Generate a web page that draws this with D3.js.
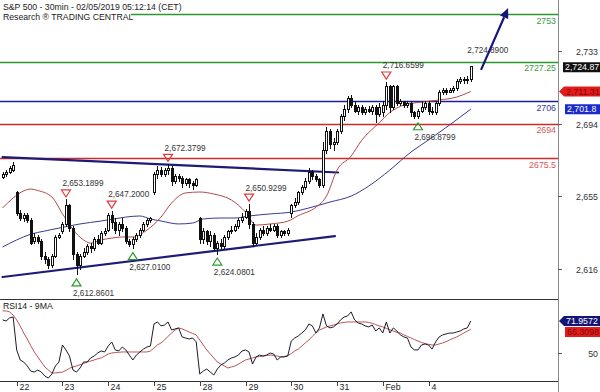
<!DOCTYPE html>
<html><head><meta charset="utf-8">
<script src="https://cdn.jsdelivr.net/npm/d3@7"></script>
<style>body{margin:0;background:#fff}svg{display:block;font-family:"Liberation Sans",Arial,sans-serif}</style>
</head><body><svg id="c" width="600" height="392"></svg>
<script>
// ---------- DATA ----------
const dayLabels = ["22","23","24","25","28","29","30","31","Feb","4"];
const dayStart  = [4,17,30,43,56,69,82,95,108,121];

const opens = [2665.5,2667,2668,2669,2657,2646,2643,2645,2642,2631,2633,2631,2623,2621,2618,2623,2633,2636,2640,2650,2638,2624,2618,2623,2625,2628,2627,2632,2630,2635,2637,2645,2641,2637,2640,2638,2631,2629,2632,2634,2637,2640,2642,2657,2667,2669,2667,2669,2670,2663,2666,2665,2662,2664,2662,2661,2643,2632,2636,2631,2634,2627,2630,2628,2633,2636,2637,2639,2642,2644,2647,2640,2630,2633,2637,2635,2638,2637,2639,2634,2636,2635,2646,2650,2652,2657,2660,2663,2668,2666,2664,2661,2680,2690,2683,2684,2690,2698,2702,2708,2704,2701,2703,2700,2702,2701,2703,2699,2700,2704,2714,2703,2714,2705,2706,2704,2705,2700,2698,2701,2703,2705,2701,2700,2705,2711,2712,2711,2712,2713,2717,2718,2717.5,2718];
const highs = [2668,2669,2671,2673.5,2658,2647.5,2646,2646,2643,2635,2634,2632,2625,2622,2624,2634,2635,2641,2653.19,2650.5,2639,2625,2624,2627,2629,2630,2633,2634,2636,2638,2646,2647.2,2643,2641,2643,2639,2632,2633,2635,2638,2641,2643,2644,2668,2671,2670.5,2670,2672.38,2671,2667,2667,2666,2665,2665,2663,2664.5,2644,2638,2637,2636,2635,2631,2632,2634,2637,2639,2640,2643,2646,2648,2650.93,2641,2635,2638,2639,2639,2640,2640,2640,2637,2637,2638,2651,2654,2658,2661,2665,2670,2669,2667,2665,2684,2692,2691,2686,2691,2699,2704,2709,2709.5,2706,2704,2704,2703,2703.5,2704,2704,2705,2706,2716.66,2715,2715,2715,2707,2706,2706,2706,2701,2702,2706,2706,2706,2703,2706,2712,2713,2713,2713,2714,2718,2719,2719,2719.5,2724.89];
const lows = [2665,2666,2667.5,2668.5,2645,2642,2641.5,2641,2629,2629.5,2630,2621,2619,2616.5,2617,2622,2632.5,2635,2639,2636,2621,2612.86,2616,2622,2624,2625,2626,2629,2629,2634,2636,2638,2635,2634,2636,2630,2628,2627.01,2631,2633,2636,2639,2641,2656,2665,2666,2666,2667,2661,2662,2663,2660,2661,2660,2659,2660.5,2630,2630,2629,2628,2626,2624.08,2627,2627,2632,2635,2636,2638,2641,2643,2638,2628,2629,2632,2634,2634,2636,2636,2633,2633,2634,2634,2644,2649,2651,2656,2659,2662,2664,2663,2660,2660,2678,2681,2680,2683,2689,2696,2700,2703,2700,2699,2699,2699,2700,2699,2695,2698,2698,2702,2700,2702,2704,2704,2703,2703,2698,2697,2696.88,2700,2702,2699,2699,2699,2704,2710,2710,2711,2711,2712,2716,2716,2716,2717];
const closes = [2667,2668,2670,2672,2646,2643,2645,2642,2630,2633,2631,2623,2621,2618,2623,2633,2634,2640,2650,2638,2624,2618,2623,2625,2628,2627,2632,2630,2635,2636,2645,2641,2637,2640,2638,2631,2629,2632,2634,2637,2640,2642,2643,2667,2669,2667,2669,2670,2663,2666,2665,2662,2664,2662,2661,2664,2632,2636,2631,2634,2627,2630,2628,2633,2636,2637,2639,2642,2644,2647,2640,2630,2633,2637,2635,2638,2637,2639,2634,2636,2635,2637,2650,2652,2657,2660,2663,2668,2666,2664,2661,2680,2690,2683,2684,2690,2698,2702,2708,2704,2701,2703,2700,2702,2701,2703,2699,2703,2704,2714,2703,2714,2705,2706,2704,2705,2700,2698,2701,2703,2705,2701,2700,2705,2711,2712,2711,2712,2713,2717,2718,2717.5,2718,2724.87];

// moving averages (bar index, value)
const maFastIdx = [0,3,6,8,10,14,17,20,23,25,28,31,34,37,41,45,48,52,56,60,65,69,72,76,81,84,89,92,95,99,102,107,110,114,119,124,129,133];
const maFastVal = [2648.6,2654,2657.8,2658.8,2658,2654.5,2645.5,2637,2631.4,2629.7,2631.4,2632.4,2633,2633,2636.7,2643.7,2651.3,2656.7,2657.2,2656.1,2652.9,2646.4,2639.4,2640,2641.5,2644.5,2649,2655,2669,2676.5,2685,2694.5,2700,2704,2705.6,2706.7,2708.3,2711.3];
const maSlowIdx = [0,4,8,12,16,22,28,35,39,42,45,50,54,57,62,66,70,76,82,87,93,99,104,110,116,121,127,133];
const maSlowVal = [2627.6,2631.4,2634.5,2636.2,2637.8,2640,2641.6,2643.7,2644.3,2642.7,2641.6,2640,2640.5,2642.7,2643.2,2643.2,2644.3,2645.4,2646.4,2648.6,2651.8,2655,2660.4,2669,2678.7,2685.2,2693.3,2701.8];

const rsi = [72.7,72.0,74.1,74.7,52.1,45.2,43.8,41.1,37.6,36.9,38.3,36.9,34.2,32.8,35.6,41.1,43.8,55.5,52.1,47.9,38.3,36.9,39.7,43.8,43.8,46.6,47.9,50,51.4,50.7,54.8,57.6,52.1,51.4,54.1,52.1,48.6,45.2,48.6,50.7,52.7,54.1,54.8,69.9,71.3,68.6,69.2,71.3,65.8,66.5,67.2,61,60.3,59.6,60.3,57.6,35.6,37.6,39,36.9,34.9,39,41.8,43.1,45.2,46.6,47.3,48.6,51.4,52.1,50.7,42.4,47.3,48.6,47.9,48.6,50,49.3,45.2,47.3,47.3,47.9,58.2,60.3,61.7,63.7,65.8,69.9,68.6,63.7,67.2,76.8,68.6,67.2,67.9,69.9,72.7,74.7,75.4,78.2,72.7,70.6,69.9,68.6,67.9,69.2,65.1,67.2,63.7,71.3,63.7,67.2,65.1,62.4,61,60.3,54.1,52.1,52.1,55.5,56.2,55.5,52.7,57.6,61,62.4,63.1,63.7,63.7,64.4,65.1,66.5,67.2,71.9572];
const rsiMA = [78.9,78.9,78.2,76,72.7,68.5,63.7,59.6,55,50.7,47.3,43.8,40.4,38.3,36.3,36.3,36.6,36.9,38,39.5,40.4,41.1,42,42.8,43.8,44.5,45.2,46,46.6,47.9,49.3,50,50.3,50.5,50.7,50.7,50.7,50.7,50.7,50.7,50.7,50.7,51.4,53.4,55.5,56.9,58.9,61.5,63.7,65.8,67.2,66.5,65.5,64.4,63.4,62.4,58.9,55.5,52.1,49.3,46.6,43.8,42.4,41.1,39.7,40.4,41.1,42.4,43.8,45.2,45.9,46.6,47.3,47.6,47.9,48.3,48.6,48.3,47.9,47.3,47.6,48.3,49.6,51.4,52.7,54.8,56.9,58.9,61.5,63.7,65.8,66.8,67.9,68.6,69.2,69.9,70.6,71,71.3,71.3,71.3,71.3,71.3,71.3,71,70.4,69.5,68.6,67.9,66.9,66,65,64.2,63.7,62.4,61.4,60.3,59.2,58.2,57.2,56.5,55.9,55.5,55.5,56.2,56.9,57.8,59,60,61,62.4,63.7,65,66.3098];

const levelValues = [2753, 2727.25, 2706, 2694, 2675.5];
const levelLabels = ["2753","2727.25","2706","2694","2675.5"];
const levelKinds  = ["res","res","piv","sup","sup"];

const priceTicks = [2616, 2655, 2694, 2733];
const rsiTicks = [50];

const highMarkIdx = [18,31,47,70,109];
const highMarkVal = [2653.1899,2647.2000,2672.3799,2650.9299,2716.6599];
const lowMarkIdx  = [21,37,61,118];
const lowMarkVal  = [2612.8601,2627.0100,2624.0801,2696.8799];
const lastHighIdx = 133, lastHighVal = 2724.8900;

// trend lines: [idx0, val0, idx1, val1]
const trendUpper = [0, 2676.0, 95.3, 2667.7];
const trendLower = [0, 2611.45, 94.4, 2633.5];
const arrowLine  = [135.9, 2722.9, 143.6, 2756.2];

const lastClose = 2724.87, lastFast = 2711.31, lastSlow = 2701.8;
const lastRsi = 71.9572, lastRsiMA = 66.3098;

// ---------- DRAW ----------
const svg = d3.select("#c");
const plotR = 558, mainBot = 299, rsiBot = 381;
const x = d3.scaleLinear().domain([0,133]).range([2.6,470.8]);
const y = d3.scaleLinear().domain([2753,2675.5]).range([14,158]);
const yr = d3.scaleLinear().domain([50,lastRsi]).range([353,321]);

const defs = svg.append("defs");
defs.append("clipPath").attr("id","cm").append("rect").attr("x",0).attr("y",0).attr("width",plotR).attr("height",mainBot);
defs.append("clipPath").attr("id","cr").append("rect").attr("x",0).attr("y",mainBot).attr("width",plotR).attr("height",rsiBot-mainBot);

const gm = svg.append("g").attr("clip-path","url(#cm)");
const gr = svg.append("g").attr("clip-path","url(#cr)");

const lvlColor = {res:"#2f972f", piv:"#1f1f9a", sup:"#cf2a2a"};
const lvlText  = {res:"#3d9a3d", piv:"#3434b0", sup:"#d45858"};

// level lines
levelValues.forEach((v,k)=>{
  const yy = Math.round(y(v))+0.5;
  gm.append("line").attr("x1",0).attr("x2",plotR).attr("y1",yy).attr("y2",yy)
    .attr("stroke",lvlColor[levelKinds[k]]).attr("stroke-width",1.4);
});

// trend lines
[trendUpper,trendLower].forEach(t=>{
  gm.append("line").attr("x1",x(t[0])).attr("y1",y(t[1])).attr("x2",x(t[2])).attr("y2",y(t[3]))
    .attr("stroke","#1c1c78").attr("stroke-width",2.2).attr("stroke-linecap","round");
});

// moving averages
const lineMA = d3.line().x(d=>x(d[0])).y(d=>y(d[1])).curve(d3.curveMonotoneX);
gm.append("path").attr("d",lineMA(maSlowIdx.map((i,k)=>[i,maSlowVal[k]])))
  .attr("fill","none").attr("stroke","#3a3a92").attr("stroke-width",1);
gm.append("path").attr("d",lineMA(maFastIdx.map((i,k)=>[i,maFastVal[k]])))
  .attr("fill","none").attr("stroke","#b24a4a").attr("stroke-width",1);

// candles
const cg = gm.append("g").attr("shape-rendering","crispEdges");
closes.forEach((c,i)=>{
  const cx = Math.round(x(i));
  const o = opens[i];
  cg.append("line").attr("x1",cx+0.5).attr("x2",cx+0.5)
    .attr("y1",Math.round(y(highs[i]))).attr("y2",Math.round(y(lows[i]))+1)
    .attr("stroke","#111").attr("stroke-width",1);
  const top = Math.round(y(Math.max(o,c))), bot = Math.round(y(Math.min(o,c)));
  cg.append("rect").attr("x",cx-0.5).attr("y",top+0.5).attr("width",2).attr("height",Math.max(1,bot-top))
    .attr("fill", c>=o ? "#fff" : "#111").attr("stroke","#111").attr("stroke-width",1);
});

// high / low markers
const fmt4 = d3.format(",.4f");
const annFont = 8.2;
highMarkIdx.forEach((i,k)=>{
  const tx = x(i), ty = y(highMarkVal[k]) - 6;
  gm.append("path").attr("d",`M${tx-4.5},${ty-3.5}L${tx+4.5},${ty-3.5}L${tx},${ty+3.5}Z`)
    .attr("fill","none").attr("stroke","#e03a3a").attr("stroke-width",1.2);
  gm.append("text").attr("x",tx-3.5).attr("y",ty-10).attr("dy","0.35em")
    .attr("font-size",annFont).attr("fill","#333").text(fmt4(highMarkVal[k]));
});
lowMarkIdx.forEach((i,k)=>{
  const tx = x(i), ty = y(lowMarkVal[k]) + 8;
  gm.append("path").attr("d",`M${tx-4.5},${ty+3.5}L${tx+4.5},${ty+3.5}L${tx},${ty-3.5}Z`)
    .attr("fill","none").attr("stroke","#2e9a2e").attr("stroke-width",1.2);
  gm.append("text").attr("x",tx-3.5).attr("y",ty+11).attr("dy","0.35em")
    .attr("font-size",annFont).attr("fill","#333").text(fmt4(lowMarkVal[k]));
});
gm.append("text").attr("x",x(lastHighIdx)-3.5).attr("y",y(lastHighVal)-16).attr("dy","0.35em")
  .attr("font-size",annFont).attr("fill","#333").text(fmt4(lastHighVal));

// arrow
{
  const x1=x(arrowLine[0]), y1=y(arrowLine[1]), x2=x(arrowLine[2]), y2=y(arrowLine[3]);
  const dx=x2-x1, dy=y2-y1, L=Math.hypot(dx,dy), ux=dx/L, uy=dy/L;
  const hl=10, hw=4.5;
  const bx=x2-ux*hl, by=y2-uy*hl;
  gm.append("line").attr("x1",x1).attr("y1",y1).attr("x2",bx).attr("y2",by)
    .attr("stroke","#14147a").attr("stroke-width",2.2);
  gm.append("path").attr("d",`M${x2},${y2}L${bx-uy*hw},${by+ux*hw}L${bx+uy*hw},${by-ux*hw}Z`).attr("fill","#14147a");
}

// level labels
levelValues.forEach((v,k)=>{
  gm.append("text").attr("x",556).attr("y",y(v)+6.5).attr("dy","0.35em").attr("text-anchor","end")
    .attr("font-size",8.8).attr("fill",lvlText[levelKinds[k]]).text(levelLabels[k]);
});

// header
svg.append("rect").attr("x",0).attr("y",0).attr("width",131).attr("height",21).attr("fill","#fff");
svg.append("text").attr("x",3).attr("y",7).attr("dy","0.35em").attr("font-size",8.7).attr("fill","#222")
  .text("S&P 500 - 30min - 02/05/2019 05:12:14 (CET)");
svg.append("text").attr("x",3).attr("y",17).attr("dy","0.35em").attr("font-size",8.7).attr("fill","#222")
  .text("Research \u00AE TRADING CENTRAL");

// RSI panel
const rline = d3.line().x((d,i)=>x(i)).y(d=>yr(d));
gr.append("path").attr("d",rline(rsiMA)).attr("fill","none").attr("stroke","#b85656").attr("stroke-width",1);
gr.append("path").attr("d",rline(rsi)).attr("fill","none").attr("stroke","#1c1c2c").attr("stroke-width",1);
svg.append("text").attr("x",3).attr("y",306).attr("dy","0.35em").attr("font-size",8.7).attr("fill","#222").text("RSI14 - 9MA");

// frame
svg.append("line").attr("x1",0).attr("x2",plotR).attr("y1",mainBot+0.5).attr("y2",mainBot+0.5).attr("stroke","#333");
svg.append("line").attr("x1",0).attr("x2",plotR).attr("y1",rsiBot+0.5).attr("y2",rsiBot+0.5).attr("stroke","#333");
svg.append("line").attr("x1",plotR+0.5).attr("x2",plotR+0.5).attr("y1",0).attr("y2",392).attr("stroke","#8a8a8a");

// right axes
const ax = svg.append("g");
priceTicks.forEach(v=>{
  const yy = Math.round(y(v))+0.5;
  ax.append("line").attr("x1",plotR).attr("x2",plotR+4).attr("y1",yy).attr("y2",yy).attr("stroke","#555");
  ax.append("text").attr("x",598).attr("y",yy).attr("dy","0.35em").attr("text-anchor","end")
    .attr("font-size",8.8).attr("fill","#333").text(d3.format(",")(v));
});
rsiTicks.forEach(v=>{
  const yy = Math.round(yr(v))+0.5;
  ax.append("line").attr("x1",plotR).attr("x2",plotR+4).attr("y1",yy).attr("y2",yy).attr("stroke","#555");
  ax.append("text").attr("x",598).attr("y",yy).attr("dy","0.35em").attr("text-anchor","end")
    .attr("font-size",8.8).attr("fill","#333").text(v);
});

// bottom axis
dayStart.forEach((i,k)=>{
  const xx = Math.round(x(i))+0.5;
  svg.append("line").attr("x1",xx).attr("x2",xx).attr("y1",rsiBot).attr("y2",rsiBot+5).attr("stroke","#444");
  svg.append("text").attr("x",xx+2).attr("y",387).attr("dy","0.35em").attr("font-size",8.8).attr("fill","#222").text(dayLabels[k]);
});

// value boxes
function vbox(yy, txt, fill, tcol, arrow, x0){
  const h=10, t=yy-h/2, b=yy+h/2;
  const d = arrow ? `M${plotR+1},${yy}L${x0},${t}L600,${t}L600,${b}L${x0},${b}Z`
                  : `M${x0},${t}L600,${t}L600,${b}L${x0},${b}Z`;
  svg.append("path").attr("d",d).attr("fill",fill);
  svg.append("text").attr("x",x0+2).attr("y",yy).attr("dy","0.35em").attr("font-size",8.8).attr("fill",tcol).text(txt);
}
vbox(y(lastClose)+1, d3.format(",.2f")(lastClose), "#111", "#fff", false, 563);
vbox(y(lastFast), d3.format(",.2f")(lastFast), "#e31b1b", "#7a0c0c", true, 564);
vbox(y(lastSlow), d3.format(",.1f")(lastSlow), "#1a2acb", "#fff", false, 565);
vbox(yr(lastRsi), d3.format(".4f")(lastRsi), "#141478", "#fff", true, 564);
vbox(Math.max(yr(lastRsiMA), yr(lastRsi)+11), d3.format(".4f")(lastRsiMA), "#e31b1b", "#7a0c0c", false, 565);
</script></body></html>
